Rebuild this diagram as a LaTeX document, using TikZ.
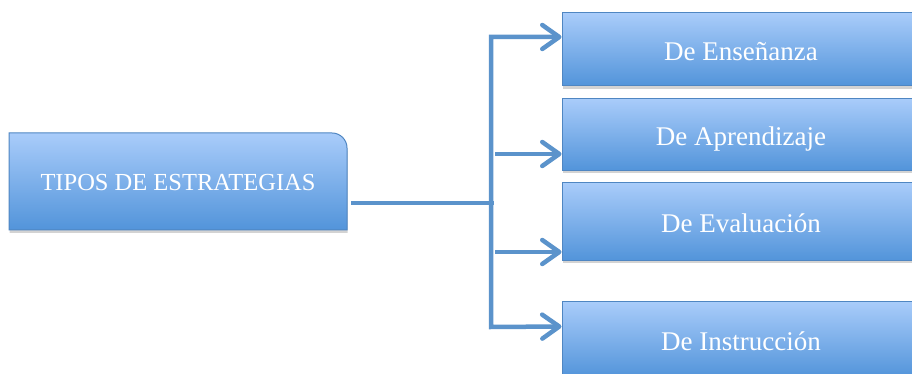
\documentclass[tikz,border=0pt]{standalone}
\usepackage{fontspec}
\setmainfont{Liberation Serif}
\usetikzlibrary{arrows.meta,shadows}

\definecolor{boxtop}{HTML}{A9CCFA}
\definecolor{boxbottom}{HTML}{5294DA}
\definecolor{boxline}{HTML}{4F86C2}
\definecolor{linkblue}{HTML}{5B93CB}

\begin{document}
\begin{tikzpicture}[x=1pt, y=1pt, node distance=85pt,
  >={Straight Barb[length=17pt, width=24pt, round]},
  boxpaint/.style={top color=boxtop, bottom color=boxbottom, draw=boxline, line width=1pt,
    drop shadow={opacity=0.35, shadow xshift=0.5pt, shadow yshift=-3pt}},
  block/.style={boxpaint, minimum width=358pt, text=white, font=\fontsize{27}{32}\selectfont,
    text height=27pt, text depth=4pt},
  headtext/.style={text=white, font=\fontsize{24.5}{30}\selectfont, text height=22pt, text depth=4pt},
  link/.style={draw=linkblue, line width=4.5pt}]

  \clip (0,0) rectangle (912,374);

  % Left box (only the upper right corner is round)
  \path[boxpaint] (9,144) -- (9,241) -- (332,241) arc[start angle=90, end angle=0, radius=15] -- (347,144) -- cycle;
  \node[headtext, minimum width=338pt, minimum height=97pt] (tipos) at (178,192.5) {TIPOS DE ESTRATEGIAS};

  % Right column
  \node[block, minimum height=73pt] (ens) at (741,324.5) {De Enseñanza};
  \node[block, minimum height=72pt, below of=ens] (apr) {De Aprendizaje};
  \node[block, minimum height=78pt, below of=apr, yshift=-2pt] (eva) {De Evaluación};
  \node[block, minimum height=76pt, below of=eva, yshift=-33pt] (ins) {De Instrucción};

  % Bus points
  \coordinate (bustop) at (491,337);
  \coordinate (busbot) at (491,47);
  \coordinate (busmid) at (494,171);
  \coordinate (apr0) at (495,220);
  \coordinate (eva0) at (495,122);

  % Connectors
  \draw[link] ([xshift=4pt, yshift=-21.5pt]tipos.east) -- (busmid);
  \draw[link, <->] ([yshift=12.5pt]ens.west) -- (bustop) -- (busbot) -- ([yshift=13pt]ins.west);
  \draw[link, ->] (apr0) -- ([yshift=-19.5pt]apr.west);
  \draw[link, ->] (eva0) -- ([yshift=-30.5pt]eva.west);

\end{tikzpicture}
\end{document}
